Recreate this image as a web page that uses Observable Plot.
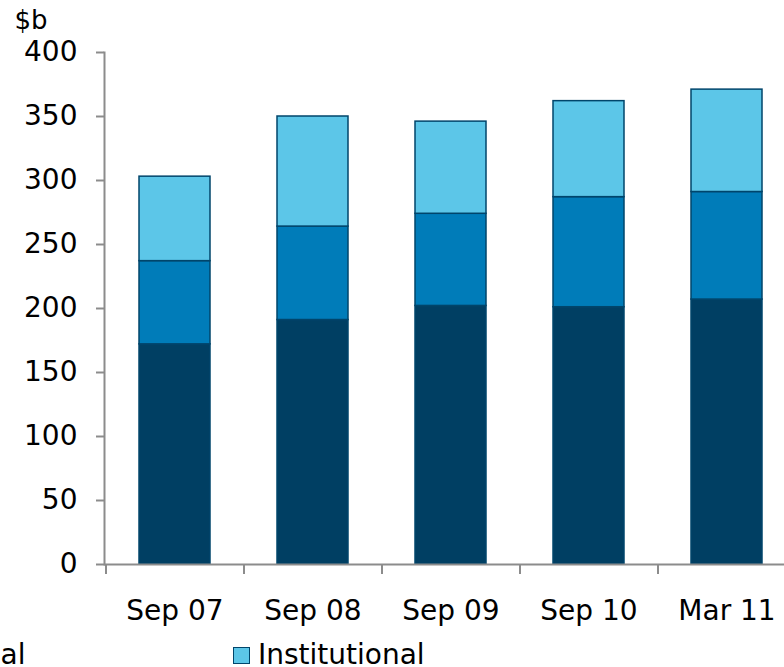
<!DOCTYPE html>
<html>
<head>
<meta charset="utf-8">
<script src="https://cdn.jsdelivr.net/npm/d3@7"></script>
<script src="https://cdn.jsdelivr.net/npm/@observablehq/plot@0.6"></script>
<style>
  html, body { margin: 0; padding: 0; background: #fff; overflow: hidden; width: 784px; height: 667px; }
  #chart svg { display: block; overflow: hidden; }
  #legend { position: relative; height: 27px; font-family: "DejaVu Sans", sans-serif; font-size: 28px; line-height: 26px; color: #000; white-space: nowrap; }
  .item { position: absolute; top: 2px; display: flex; align-items: center; height: 26px; }
  .sw { width: 15px; height: 15px; border: 1.5px solid #00456b; margin-right: 8px; }
</style>
</head>
<body>
<div id="chart"></div>
<div id="legend"></div>
<script>
const categories = ["Sep 07", "Sep 08", "Sep 09", "Sep 10", "Mar 11"];
const seriesNames = ["Retail", "Commercial", "Institutional"];
const seriesColors = ["#003f63", "#007cb9", "#5cc6e8"];
const retail = [172, 191, 202, 201, 207];
const commercial = [65, 73, 72, 86, 84];
const institutional = [66, 86, 72, 75, 80];
const yTicks = [0, 50, 100, 150, 200, 250, 300, 350, 400];

const seriesValues = [retail, commercial, institutional];
const data = [];
seriesNames.forEach((s, si) => {
  categories.forEach((c, ci) => data.push({category: c, series: s, value: seriesValues[si][ci]}));
});

const W = 784, H = 640;
const chart = Plot.plot({
  width: W,
  height: H,
  marginLeft: 104,
  marginRight: 0,
  marginTop: 52,
  marginBottom: 76,
  style: {fontFamily: "DejaVu Sans, sans-serif", fontSize: "28px", color: "#000", background: "#fff", overflow: "hidden"},
  x: {type: "band", domain: categories, range: [105, 795], paddingInner: 0.486, paddingOuter: 0.243},
  y: {domain: [0, 400]},
  color: {domain: seriesNames, range: seriesColors},
  marks: [
    Plot.barY(data, {x: "category", y: "value", fill: "series", stroke: "#00456b", strokeWidth: 1.5}),
    Plot.frame({anchor: "left", stroke: "#8c8c8c", strokeWidth: 2}),
    Plot.ruleY([0], {stroke: "#8c8c8c", strokeWidth: 2}),
    Plot.ruleX(categories, {x: d => d, dx: -69, y1: 0, y2: 0, insetBottom: -10, stroke: "#8c8c8c", strokeWidth: 2}),
    Plot.axisY({ticks: yTicks, tickSize: 8, tickPadding: 19, label: null, stroke: "#8c8c8c", strokeWidth: 2, fontSize: 28}),
    Plot.axisX({tickSize: 0, tickPadding: 36, label: null, fontSize: 28}),
    Plot.text(["$b"], {frameAnchor: "top-left", dx: -90, dy: -32, textAnchor: "start", lineAnchor: "middle", fontSize: 26})
  ]
});
document.getElementById("chart").appendChild(chart);

// legend (clipped on the left like the reference)
const legend = document.getElementById("legend");
const pitch = 400;
const lastLeft = 233;
seriesNames.forEach((s, i) => {
  const it = document.createElement("div");
  it.className = "item";
  it.style.left = (lastLeft - (seriesNames.length - 1 - i) * pitch) + "px";
  const sw = document.createElement("span");
  sw.className = "sw";
  sw.style.background = seriesColors[i];
  const t = document.createElement("span");
  t.textContent = s;
  it.appendChild(sw);
  it.appendChild(t);
  legend.appendChild(it);
});
</script>
</body>
</html>
